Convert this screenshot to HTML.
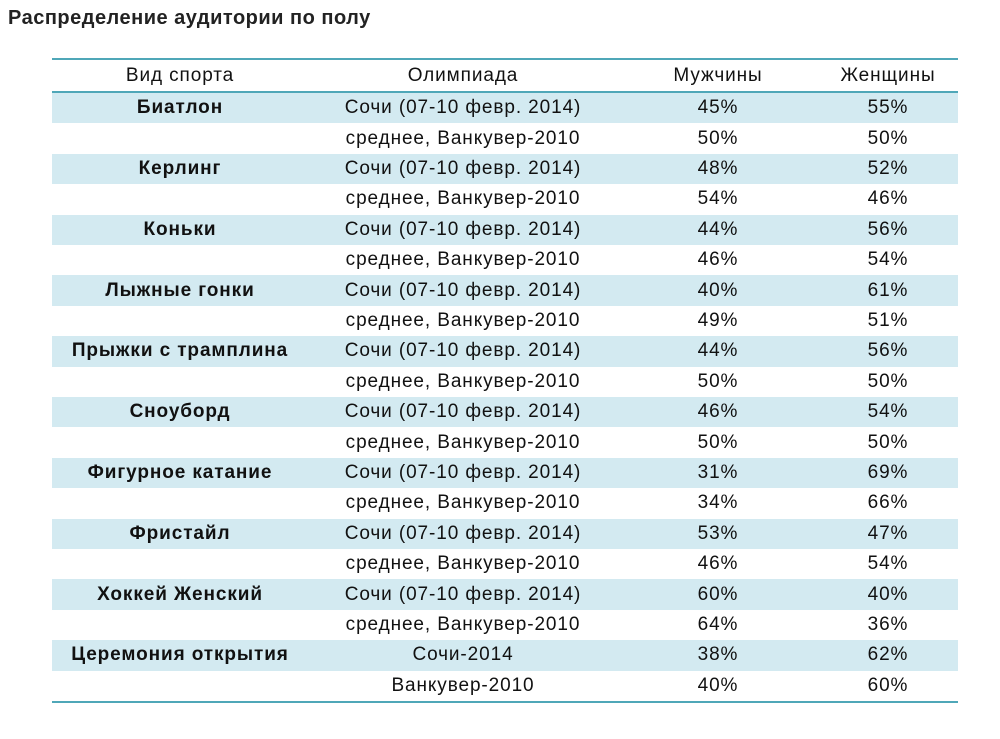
<!DOCTYPE html>
<html><head><meta charset="utf-8"><style>
body{margin:0;width:1000px;height:739px;background:#fff;font-family:"Liberation Sans","DejaVu Sans",sans-serif;color:#111;position:relative;overflow:hidden}
#title{position:absolute;left:8px;top:7px;font-size:20px;letter-spacing:0.5px;font-weight:bold;color:#222}
#tbl{position:absolute;left:52px;top:58px;width:906px}
.line{position:absolute;left:0;width:906px;height:2px;background:#4fa7b8}
.row{position:absolute;left:0;width:906px;height:30.4px}
.row.b{background:#d3eaf1}
.c{position:absolute;top:0;height:100%;display:flex;align-items:center;justify-content:center;font-size:19px;letter-spacing:0.9px;white-space:nowrap}
.c1{left:0;width:256px}.c2{left:256px;width:310px}.c3{left:566px;width:200px}.c4{left:766px;width:140px}
.bold{font-weight:bold}
</style></head><body>
<div id="title">Распределение аудитории по полу</div>
<div id="tbl">
<div class="line" style="top:0"></div>
<div class="row" style="top:2px;height:31px">
<div class="c c1">Вид спорта</div>
<div class="c c2">Олимпиада</div>
<div class="c c3">Мужчины</div>
<div class="c c4">Женщины</div>
</div>
<div class="line" style="top:33px"></div>
<div id="body"></div>
</div>
<script>
const sports=["Биатлон","Керлинг","Коньки","Лыжные гонки","Прыжки с трамплина","Сноуборд","Фигурное катание","Фристайл","Хоккей Женский","Церемония открытия"];
const men=[45,50,48,54,44,46,40,49,44,50,46,50,31,34,53,46,60,64,38,40];
const women=[55,50,52,46,56,54,61,51,56,50,54,50,69,66,47,54,40,36,62,60];
const body=document.getElementById('body');
const tbl=document.getElementById('tbl');
const H=30.4,T=35;
for(let i=0;i<20;i++){
 const r=document.createElement('div');
 
 
 r.className='row'+(i%2===0?' b':'');
 r.style.top=(T+i*H)+'px';
 const last=i>=18;
 const olymp=last?(i===18?'Сочи-2014':'Ванкувер-2010'):(i%2===0?'Сочи (07-10 февр. 2014)':'среднее, Ванкувер-2010');
 const vals=[i%2===0?sports[i/2]:'',olymp,men[i]+'%',women[i]+'%'];
 const names=['sport-cell','olympics-cell','men-cell','women-cell'];
 vals.forEach((v,j)=>{
  const c=document.createElement('div');
  
  
  c.className='c c'+(j+1)+(j===0?' bold':'');
  c.textContent=v;
  r.appendChild(c);
 });
 body.appendChild(r);
}
const bl=document.createElement('div');


bl.className='line';
bl.style.top=(T+20*H)+'px';
tbl.appendChild(bl);
</script>
</body></html>
